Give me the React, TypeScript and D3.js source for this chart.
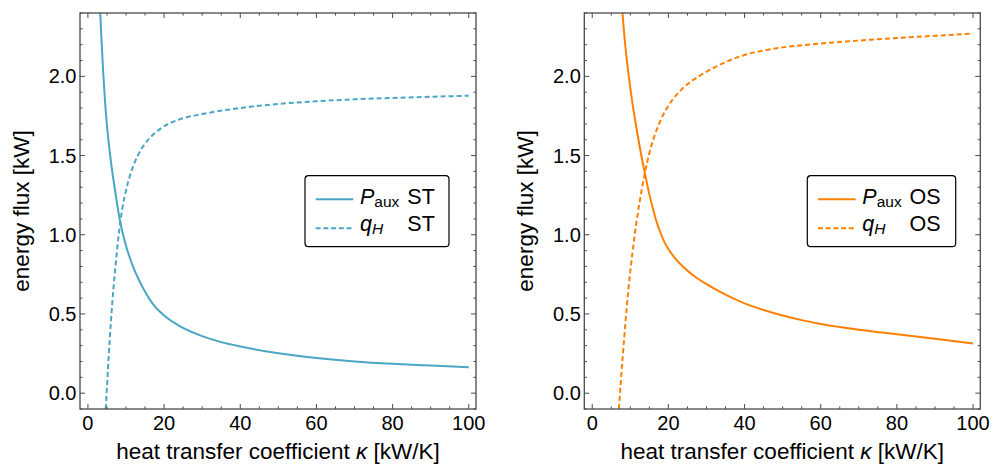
import React from "react";
import * as d3 from "d3";

// ---- data ----
const kappaTicks = [0, 20, 40, 60, 80, 100];
const fluxTicks = [0, 0.5, 1.0, 1.5, 2.0];

const stPauxKappa = [3.2, 3.5, 4.0, 4.5, 5.0, 5.85, 6.5, 7.0, 7.5, 8.4, 9.4, 10, 11, 12, 13, 14, 15.5, 17, 20, 24, 30, 35, 40, 50, 60, 70, 80, 90, 100];
const stPauxFlux = [2.42, 2.26, 2.03, 1.84, 1.69, 1.5, 1.38, 1.3, 1.22, 1.09, 0.985, 0.93, 0.855, 0.79, 0.735, 0.685, 0.62, 0.565, 0.49, 0.425, 0.36, 0.322, 0.295, 0.252, 0.222, 0.2, 0.185, 0.174, 0.164];

const stQhKappa = [4.67, 5.0, 5.5, 6.0, 6.5, 7.0, 7.5, 8.0, 8.5, 9.0, 10, 11, 12, 13, 14, 15, 16, 18, 20, 24, 30, 40, 50, 60, 70, 80, 90, 100];
const stQhFlux = [-0.1, 0.04, 0.25, 0.44, 0.6, 0.74, 0.87, 0.98, 1.08, 1.16, 1.28, 1.37, 1.44, 1.495, 1.54, 1.575, 1.605, 1.65, 1.685, 1.728, 1.762, 1.8, 1.826, 1.843, 1.855, 1.864, 1.871, 1.878];

const osPauxKappa = [7.87, 8.5, 9.5, 10.5, 11.5, 12.9, 13.75, 14.5, 15, 16, 17, 18, 19, 20, 22, 24, 27, 30, 35, 40, 45, 50, 55, 60, 65, 70, 80, 90, 100];
const osPauxFlux = [2.42, 2.24, 2.02, 1.84, 1.69, 1.5, 1.398, 1.31, 1.255, 1.16, 1.075, 1.008, 0.952, 0.91, 0.845, 0.795, 0.735, 0.688, 0.622, 0.567, 0.525, 0.49, 0.461, 0.437, 0.418, 0.401, 0.372, 0.343, 0.314];

const osQhKappa = [7.0, 7.5, 8.0, 8.5, 9.0, 9.5, 10, 10.5, 11, 11.5, 12, 12.5, 13, 13.75, 14.5, 15.5, 16.5, 18, 20, 22, 25, 28, 32, 36, 40, 45, 50, 60, 70, 80, 90, 100];
const osQhFlux = [-0.1, 0.07, 0.23, 0.38, 0.525, 0.655, 0.77, 0.875, 0.97, 1.06, 1.14, 1.215, 1.285, 1.38, 1.465, 1.56, 1.635, 1.725, 1.815, 1.88, 1.95, 2.0, 2.055, 2.1, 2.135, 2.163, 2.183, 2.207, 2.226, 2.242, 2.256, 2.27];

const xLabel = "heat transfer coefficient ";
const yLabel = "energy flux [kW]";

const FONT = "'Liberation Sans', Arial, Helvetica, sans-serif";

type PanelProps = {
  left: number;
  color: string;
  tag: string;
  pK: number[];
  pV: number[];
  qK: number[];
  qV: number[];
  legendW: number;
  id: string;
};

function Panel({ left, color, tag, pK, pV, qK, qV, legendW, id }: PanelProps) {
  const top = 13;
  const w = 396;
  const h = 396;
  const x = d3.scaleLinear().domain([-2.08, 101.9]).range([0, w]);
  const y = d3.scaleLinear().domain([-0.1, 2.4]).range([h, 0]);
  const line = d3
    .line<[number, number]>()
    .x((d) => x(d[0]))
    .y((d) => y(d[1]))
    .curve(d3.curveMonotoneX);
  const pData = pK.map((k, i) => [k, pV[i]] as [number, number]);
  const qData = qK.map((k, i) => [k, qV[i]] as [number, number]);
  const xMinor = x.ticks(20).filter((t) => !kappaTicks.includes(t));
  const yMinor = y.ticks(25).filter((t) => !fluxTicks.some((f) => Math.abs(f - t) < 1e-6));
  const frame = "#4a4a4a";
  const maj = 5;
  const min = 2.6;
  const lx = 225 + (legendW === 144 ? 0 : -2);
  return (
    <g transform={`translate(${left},${top})`}>
      <defs>
        <clipPath id={id}>
          <rect x={0} y={0} width={w} height={h} />
        </clipPath>
      </defs>
      <g clipPath={`url(#${id})`}>
        <path d={line(pData) || ""} fill="none" stroke={color} strokeWidth={2} />
        <path d={line(qData) || ""} fill="none" stroke={color} strokeWidth={2} strokeDasharray="5,3" />
      </g>
      {/* ticks */}
      <g stroke={frame} strokeWidth={1}>
        {kappaTicks.map((t) => (
          <g key={"xm" + t}>
            <line x1={x(t)} x2={x(t)} y1={h} y2={h - maj} />
            <line x1={x(t)} x2={x(t)} y1={0} y2={maj} />
          </g>
        ))}
        {xMinor.map((t) => (
          <g key={"xn" + t}>
            <line x1={x(t)} x2={x(t)} y1={h} y2={h - min} />
            <line x1={x(t)} x2={x(t)} y1={0} y2={min} />
          </g>
        ))}
        {fluxTicks.map((t) => (
          <g key={"ym" + t}>
            <line x1={0} x2={maj} y1={y(t)} y2={y(t)} />
            <line x1={w} x2={w - maj} y1={y(t)} y2={y(t)} />
          </g>
        ))}
        {yMinor.map((t) => (
          <g key={"yn" + t}>
            <line x1={0} x2={min} y1={y(t)} y2={y(t)} />
            <line x1={w} x2={w - min} y1={y(t)} y2={y(t)} />
          </g>
        ))}
      </g>
      <rect x={0} y={0} width={w} height={h} fill="none" stroke={frame} strokeWidth={1.3} />
      {/* tick labels */}
      <g fontFamily={FONT} fontSize={20} fill="#000">
        {kappaTicks.map((t) => (
          <text key={"xl" + t} x={x(t)} y={h + 20.5} textAnchor="middle">
            {d3.format("d")(t)}
          </text>
        ))}
        {fluxTicks.map((t) => (
          <text key={"yl" + t} x={-3.5} y={y(t) + 7} textAnchor="end">
            {d3.format(".1f")(t)}
          </text>
        ))}
      </g>
      {/* axis labels */}
      <text x={w / 2} y={h + 50} textAnchor="middle" fontFamily={FONT} fontSize={22.5} fill="#000">
        {xLabel}
        <tspan fontStyle="italic">κ</tspan>
        {" [kW/K]"}
      </text>
      <text
        transform={`translate(${-51},${h / 2}) rotate(-90)`}
        textAnchor="middle"
        fontFamily={FONT}
        fontSize={22.5}
        fill="#000"
      >
        {yLabel}
      </text>
      {/* legend */}
      <g transform={`translate(${lx},162.7)`}>
        <rect x={0} y={0} width={legendW} height={71} rx={3.5} fill="#fff" stroke="#000" strokeWidth={1.2} />
        <line x1={10.7} x2={48.3} y1={23.6} y2={23.6} stroke={color} strokeWidth={2} />
        <line x1={10.7} x2={48.3} y1={52.6} y2={52.6} stroke={color} strokeWidth={2} strokeDasharray="5,2.7" />
        <text x={55} y={28} fontFamily={FONT} fontSize={21.5} fill="#000">
          <tspan fontStyle="italic">P</tspan>
          <tspan fontSize={15.5} dy={3.4}>aux</tspan>
        </text>
        <text x={102.3} y={28} fontFamily={FONT} fontSize={21.5} fill="#000">{tag}</text>
        <text x={55} y={55.2} fontFamily={FONT} fontSize={21.5} fill="#000">
          <tspan fontStyle="italic">q</tspan>
          <tspan fontSize={15.5} dy={3.4} fontStyle="italic">H</tspan>
        </text>
        <text x={102.3} y={55.2} fontFamily={FONT} fontSize={21.5} fill="#000">{tag}</text>
      </g>
    </g>
  );
}

export default function App() {
  return (
    <svg width={1001} height={466} style={{ display: "block", position: "absolute", left: 0, top: 0, background: "#fff" }}>
      <rect x={0} y={0} width={1001} height={466} fill="#fff" />
      <Panel left={80} color="#4ba5c5" tag="ST" pK={stPauxKappa} pV={stPauxFlux} qK={stQhKappa} qV={stQhFlux} legendW={144} id="clipL" />
      <Panel left={584.3} color="#ff8000" tag="OS" pK={osPauxKappa} pV={osPauxFlux} qK={osQhKappa} qV={osQhFlux} legendW={148.4} id="clipR" />
    </svg>
  );
}
